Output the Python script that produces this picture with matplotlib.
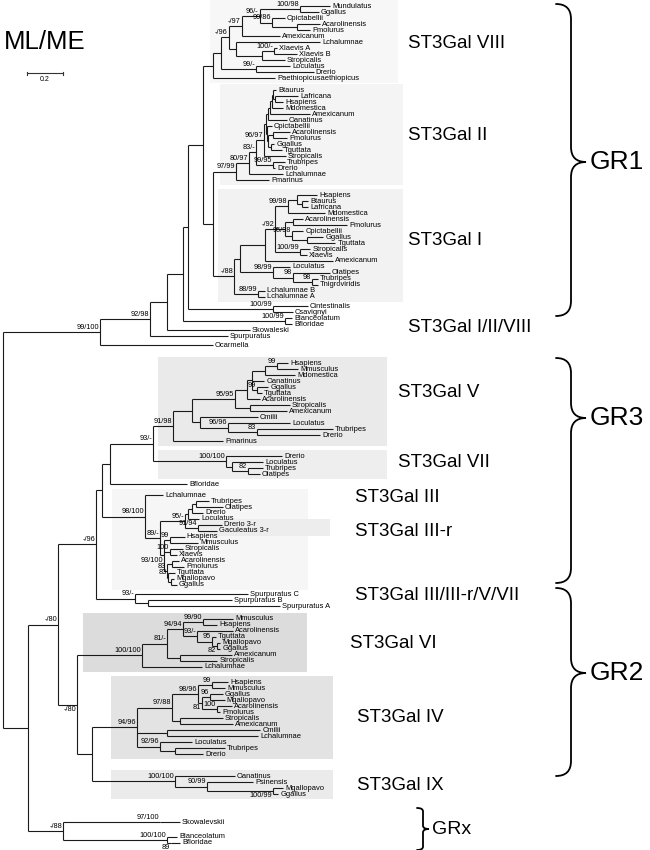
import matplotlib
matplotlib.use('Agg')
import matplotlib.pyplot as plt
from matplotlib.path import Path
from matplotlib.patches import PathPatch, Rectangle
from matplotlib.collections import LineCollection

plt.rcParams['font.family'] = ['Liberation Sans', 'DejaVu Sans']

# Newick subtrees, branch lengths in substitutions/site, node labels = ML/ME support
# (a leading "_" on a support value means it is printed under its branch)
ST3GAL8 = "((((((Mundulatus:0.167,Ggallus:0.106)100/98:0.222,(Cpictabellii:0.072,(Acarolinensis:0.128,Pmolurus:0.072):0.139)99/86:0.067)96/-:0.1,Amexicanum:0.211)-/97:0.072,(Lchalumnae:0.467,((Xlaevis A:0.017,Xlaevis B:0.128)100/-:0.067,Stropicalis:0.128):0.144):0.039)-/96:0.044,(Loculatus:0.189,Drerio:0.322)99/-:0.194):0.044,Paethiopicusaethiopicus:0.344)"
ST3GAL2 = "(((((((((Btaurus:0.017,(Lafricana:0.128,Hsapiens:0.044):0.011):0.006,Mdomestica:0.061):0.011,Amexicanum:0.222):0.011,Oanatinus:0.106):0.011,(Cpictabellii:0.028,((Acarolinensis:0.094,Pmolurus:0.078):0.028,(Ggallus:0.017,Tguttata:0.061):0.017):0.006):0.006):0.011,Stropicalis:0.122)96/97:0.044,(Trubripes:0.067,Drerio:0.011)99/95:0.094)83/-:0.039,Lchalumnae:0.189)80/97:0.072,Pmarinus:0.183)97/99"
ST3GAL1 = "((((((Hsapiens:0.111,(Btaurus:0.033,Lafricana:0.033):0.028):0.05,Mdomestica:0.206)99/98:0.072,((Acarolinensis:0.056,Pmolurus:0.3):0.044,(Cpictabellii:0.061,(Ggallus:0.089,Tguttata:0.156):0.083)95/98:0.039):0.056,(Stropicalis:0.056,Xlaevis:0.039)100/99:0.139)-/92:0.056,Amexicanum:0.378):0.139,(Loculatus:0.094,(Olatipes:0.206,(Trubripes:0.033,Tnigroviridis:0.033)98:0.106)98:0.111)98/99:0.183):0.033,(Lchalumnae B:0.039,Lchalumnae A:0.039)88/99:0.133)-/88"
GR1 = "(((((({VIII}:0.056,({II}:0.128,{I}:0.117):0.056):0.083,(Cintestinalis:0.194,Csavignyi:0.111)100/99:0.472):0.028,(Blanceolatum:0.039,Bfloridae:0.039)100/99:0.567):0.089,Skowaleski:0.461):0.094,Spurpuratus:0.433)92/98:0.278,Ocarmella:0.628)99/100"

ST3GAL5 = "(((((((Hsapiens:0.061,Mmusculus:0.117)99:0.067,Mdomestica:0.167):0.072,Oanatinus:0.067,(Ggallus:0.061,Tguttata:0.028)99:0.028):0.028,Acarolinensis:0.072):0.067,(Stropicalis:0.222,Amexicanum:0.206):0.083)95/95:0.239,(Cmilii:0.322,(Loculatus:0.344,(Trubripes:0.422,Drerio:0.35)83:0.161)96/96:0.156):0.044):0.106,Pmarinus:0.278)91/98"
ST3GAL7 = "(Drerio:0.311,(Loculatus:0.172,(Trubripes:0.083,Olatipes:0.067)82:0.089):0.033)100/100"
ST3GAL3R = "(Drerio 3-r:0.133,Gaculeatus 3-r:0.106)91/94"
ST3GAL3 = "(Lchalumnae:0.1,(((((Trubripes:0.072,Olatipes:0.15):0.022,Drerio:0.061):0.022,Loculatus:0.061):0.017,{IIIr}:0.072)95/-:0.139,((Hsapiens:0.083,Mmusculus:0.156)99:0.033,(Stropicalis:0.072,Xlaevis:0.039)100:0.033,((Acarolinensis:0.039,Pmolurus:0.067):0.028,(Tguttata:0.039,(Mgallopavo:0.017,Ggallus:0.033):0.017)83:0.006)83:0.017)_93/100:0.022)89/-:0.083)98/100"
SPURP = "(Spurpuratus C:0.628,(Spurpuratus B:0.467,Spurpuratus A:0.733):0.072)93/-"
GR3 = "(((({V}:0.111,{VII}:0.406)93/-:0.239,Bfloridae:0.428):0.044,{III}:0.239):0.033,{Spurp}:0.217)-/96"

ST3GAL6 = "((((Mmusculus:0.167,Hsapiens:0.078)99/90:0.111,(Acarolinensis:0.2,(Tguttata:0.022,(Mgallopavo:0.017,Ggallus:0.017)_82:0.028)95:0.083)93/-:0.078)94/94:0.089,(Amexicanum:0.289,Stropicalis:0.206):0.072)81/-:0.139,Lchalumnae:0.333)100/100"
ST3GAL4 = "((((Hsapiens:0.089,Mmusculus:0.072)99:0.078,((Ggallus:0.072,Mgallopavo:0.083)96:0.044,(Acarolinensis:0.083,Pmolurus:0.017)100:0.083)_81:0.022)98/96:0.144,(Stropicalis:0.239,Amexicanum:0.294):0.044)97/88:0.194,(Cmilii:0.517,Lchalumnae:0.506):0.167,(Loculatus:0.178,(Trubripes:0.278,Drerio:0.156):0.083)92/96:0.128)94/96"
ST3GAL9 = "(Oanatinus:0.333,(Psinensis:0.256,(Mgallopavo:0.056,Ggallus:0.028)_100/99:0.367)90/99:0.178)100/100"
GRX = "((Skowalevskii:0.111)97/100:0.539,(Blanceolatum:0.056,(Bfloridae:0.05)_89:0.022)100/100:0.578)-/88"

ROOT = "({GR1}:0.539,(({GR3}:0.211,({VI}:0.361,({IV}:0.25,{IX}:0.461):0.083)_-/80:0.106)-/80:0.167,{GRx}:0.194):0.139)"

CLADES = {"VIII": ST3GAL8, "II": ST3GAL2, "I": ST3GAL1, "GR1": GR1,
          "V": ST3GAL5, "VII": ST3GAL7, "III": ST3GAL3, "IIIr": ST3GAL3R,
          "Spurp": SPURP, "GR3": GR3, "VI": ST3GAL6, "IV": ST3GAL4,
          "IX": ST3GAL9, "GRx": GRX}

group_names = ["ST3Gal VIII", "ST3Gal II", "ST3Gal I", "ST3Gal I/II/VIII",
               "ST3Gal V", "ST3Gal VII", "ST3Gal III", "ST3Gal III-r",
               "ST3Gal III/III-r/V/VII", "ST3Gal VI", "ST3Gal IV", "ST3Gal IX"]
super_groups = ["GR1", "GR3", "GR2", "GRx"]

# layout
PX_PER_UNIT = 180.0     # 0.2 scale bar = 36 px
ROOT_X = 3
Y0, STEP = 6, 6.0
GAP_BEFORE = {13: 6, 29: 9, 47: 3, 53: 3, 54: 12, 68: 9, 72: 4, 73: 5, 89: 3,
              92: 7, 101: 9, 114: 16, 118: 22, 119: 9}


def parse(s):
    pos = 0

    def read(stop):
        nonlocal pos
        start = pos
        while pos < len(s) and s[pos] not in stop:
            pos += 1
        return s[start:pos].strip()

    def node():
        nonlocal pos
        n = {'children': [], 'name': '', 'label': '', 'length': 0.0, 'key': None}
        if s[pos] == '(':
            pos += 1
            while True:
                n['children'].append(node())
                if s[pos] == ',':
                    pos += 1
                else:
                    pos += 1
                    break
            n['label'] = read(':,)')
        else:
            n['name'] = read(':,)')
        if pos < len(s) and s[pos] == ':':
            pos += 1
            n['length'] = float(read(',)'))
        return n
    return node()


def expand(n):
    if n['name'].startswith('{'):
        key = n['name'][1:-1]
        sub = expand(parse(CLADES[key]))
        sub['length'] = n['length']
        sub['key'] = key
        return sub
    n['children'] = [expand(c) for c in n['children']]
    return n


tree = expand(parse(ROOT))

leaves = []
keyed = {}


def place(n, x):
    n['x'] = x
    if n['key']:
        keyed[n['key']] = n
    for c in n['children']:
        place(c, x + c['length'] * PX_PER_UNIT)
    if not n['children']:
        leaves.append(n)


place(tree, ROOT_X)
acc = 0
for i, lf in enumerate(leaves):
    acc += GAP_BEFORE.get(i, 0)
    lf['y'] = Y0 + i * STEP + acc


def set_y(n):
    if n['children']:
        for c in n['children']:
            set_y(c)
        n['y'] = (n['children'][0]['y'] + n['children'][-1]['y']) / 2


set_y(tree)


def leaf_span(n):
    if not n['children']:
        return n['y'], n['y']
    spans = [leaf_span(c) for c in n['children']]
    return min(s[0] for s in spans), max(s[1] for s in spans)


fig = plt.figure(figsize=(6.5, 8.5), dpi=100)
ax = fig.add_axes([0, 0, 1, 1])
ax.set_xlim(0, 650)
ax.set_ylim(850, 0)
ax.axis('off')

# shaded clade boxes
boxes = [("VIII", 210, 398, '#f7f7f7'), ("II", 220, 403, '#f4f4f4'),
         ("I", 218, 403, '#f2f2f2'), ("V", 158, 387, '#eaeaea'),
         ("VII", 158, 387, '#eeeeee'), ("III", 112, 308, '#f6f6f6'),
         ("IIIr", 200, 330, '#ededed'), ("VI", 83, 307, '#dcdcdc'),
         ("IV", 111, 333, '#e3e3e3'), ("IX", 111, 333, '#ebebeb')]
for key, x1, x2, col in boxes:
    top, bot = leaf_span(keyed[key])
    ax.add_patch(Rectangle((x1, top - 6), x2 - x1, bot - top + 11,
                           facecolor=col, edgecolor='none', zorder=0))

segs = []


def draw(n):
    if not n['children']:
        ax.text(n['x'] + 2, n['y'], n['name'], fontsize=5.4, va='center',
                ha='left', zorder=3)
        return
    kids = n['children']
    segs.append([(n['x'], kids[0]['y']), (n['x'], kids[-1]['y'])])
    for c in kids:
        segs.append([(n['x'], c['y']), (c['x'], c['y'])])
        lab = c['label']
        if lab:
            if lab.startswith('_'):
                ax.text(c['x'] - 1, c['y'] + 1.2, lab[1:], fontsize=5.3,
                        ha='right', va='top', zorder=3)
            else:
                ax.text(c['x'] - 1, c['y'] - 1.2, lab, fontsize=5.3,
                        ha='right', va='bottom', zorder=3)
        draw(c)


draw(tree)
ax.add_collection(LineCollection(segs, colors='#1a1a1a', linewidths=0.8,
                                 zorder=2))

# group labels
label_pos = [(408, 43), (408, 135), (408, 240), (408, 327), (398, 392),
             (398, 462), (355, 497), (355, 531), (355, 596), (350, 643),
             (357, 718), (357, 785)]
for name, (x, y) in zip(group_names, label_pos):
    ax.text(x, y, name, fontsize=13.5, va='center', ha='left')


def brace(x, y0, y1, w, ym, lw=1.3):
    r = min(w * 0.5, (y1 - y0) * 0.08)
    xm = x + w * 0.5
    verts = [(x, y0), (xm, y0), (xm, y0 + r),
             (xm, ym - r),
             (xm, ym), (x + w, ym),
             (xm, ym), (xm, ym + r),
             (xm, y1 - r),
             (xm, y1), (x, y1)]
    codes = [Path.MOVETO, Path.CURVE3, Path.CURVE3,
             Path.LINETO,
             Path.CURVE3, Path.CURVE3,
             Path.CURVE3, Path.CURVE3,
             Path.LINETO,
             Path.CURVE3, Path.CURVE3]
    ax.add_patch(PathPatch(Path(verts, codes), fill=False, lw=lw,
                           edgecolor='black', capstyle='round'))


brace_pos = [(556, 4, 316, 30, 162), (556, 358, 583, 30, 418),
             (556, 588, 776, 30, 673), (417, 808, 850, 12, 829)]
text_pos = [(590, 162, 19), (590, 418, 19), (590, 673, 19), (432, 829, 14)]
for name, (bx, y0, y1, w, ym), (tx, ty, fs) in zip(super_groups, brace_pos, text_pos):
    brace(bx, y0, y1, w, ym)
    ax.text(tx, ty, name, fontsize=fs, va='center', ha='left')

# title and scale bar
ax.text(4, 42, "ML/ME", fontsize=18.5, va='center', ha='left')
sb = 0.2 * PX_PER_UNIT
ax.plot([27, 27 + sb], [73, 73], color='#333333', lw=0.8)
ax.plot([27, 27], [71.5, 74.5], color='#333333', lw=0.8)
ax.plot([27 + sb, 27 + sb], [71.5, 74.5], color='#333333', lw=0.8)
ax.text(27 + sb / 2, 76, "0.2", fontsize=5, ha='center', va='top')

fig.savefig('out.png', dpi=100)
